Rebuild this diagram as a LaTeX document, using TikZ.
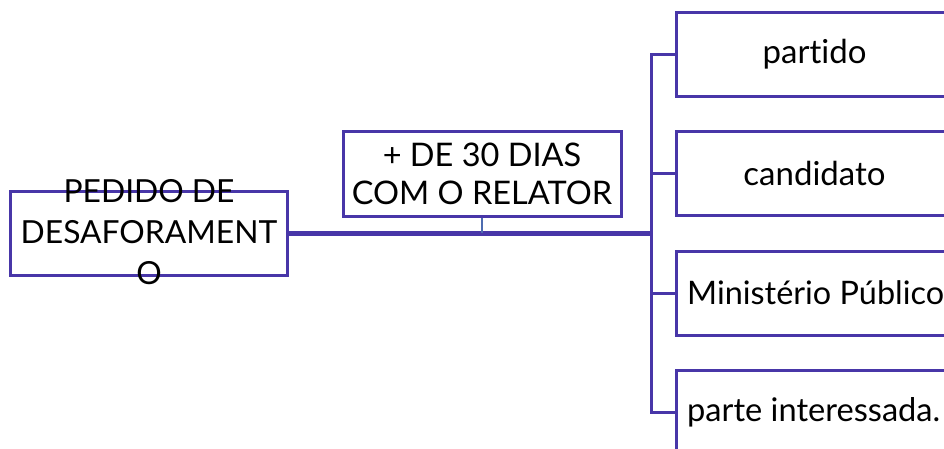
\documentclass[tikz,border=0pt]{standalone}
\usepackage{fontspec}
\setmainfont[Ligatures=NoCommon]{Lato}
\definecolor{boxc}{RGB}{72,54,168}
\definecolor{linkc}{RGB}{78,108,176}
\begin{document}
\begin{tikzpicture}[x=1pt,y=-1pt,
  box/.style={draw=boxc,line width=3pt,fill=none,inner sep=0pt,minimum height=84pt},
  conn/.style={draw=boxc,line width=3pt},
  txt/.style={inner sep=0pt,align=center,text=black}]
\clip (0,0) rectangle (944,448);
\fill[white] (0,0) rectangle (944,448);
% boxes
\node[box,minimum width=277pt] (ped) at (149,233) {};
\node[box,minimum width=278pt,minimum height=85pt] (rel) at (482,173.5) {};
\node[box,minimum width=276pt,anchor=west] (par) at (675,54) {};
\node[box,minimum width=276pt,anchor=west] (can) at (675,173) {};
\node[box,minimum width=276pt,anchor=west] (min) at (675,293) {};
\node[box,minimum width=276pt,anchor=west] (pin) at (675,412) {};
% texts
\node[txt,font=\fontsize{31.8}{41}\selectfont] (tped) at ([yshift=1pt]ped.center) {PEDIDO DE\\DESAFORAMENT\\O};
\node[txt,font=\fontsize{32.5}{38}\selectfont] (trel) at (rel.center) {+ DE 30 DIAS\\COM O RELATOR};
\node[txt,font=\fontsize{33}{36}\selectfont] (tpar) at (par.center) {partido};
\node[txt,font=\fontsize{33}{36}\selectfont] (tcan) at (can.center) {candidato};
\node[txt,font=\fontsize{32.4}{36}\selectfont,anchor=west] (tmin) at ([xshift=12pt]min.west) {Ministério Público};
\node[txt,font=\fontsize{32.6}{36}\selectfont,anchor=west] (tpin) at ([xshift=12pt]pin.west) {parte interessada.};
% connectors
\coordinate (trunk) at (651,233);
\draw[boxc,line width=5pt] (ped.east) -- (trunk);
\draw[linkc,line width=2.6pt] (rel.south) -- (rel.south |- trunk);
\draw[conn] (par.west) -| (trunk);
\draw[conn] (pin.west) -| (trunk);
\draw[conn] (can.west) -| (trunk);
\draw[conn] (min.west) -| (trunk);
\end{tikzpicture}
\end{document}
